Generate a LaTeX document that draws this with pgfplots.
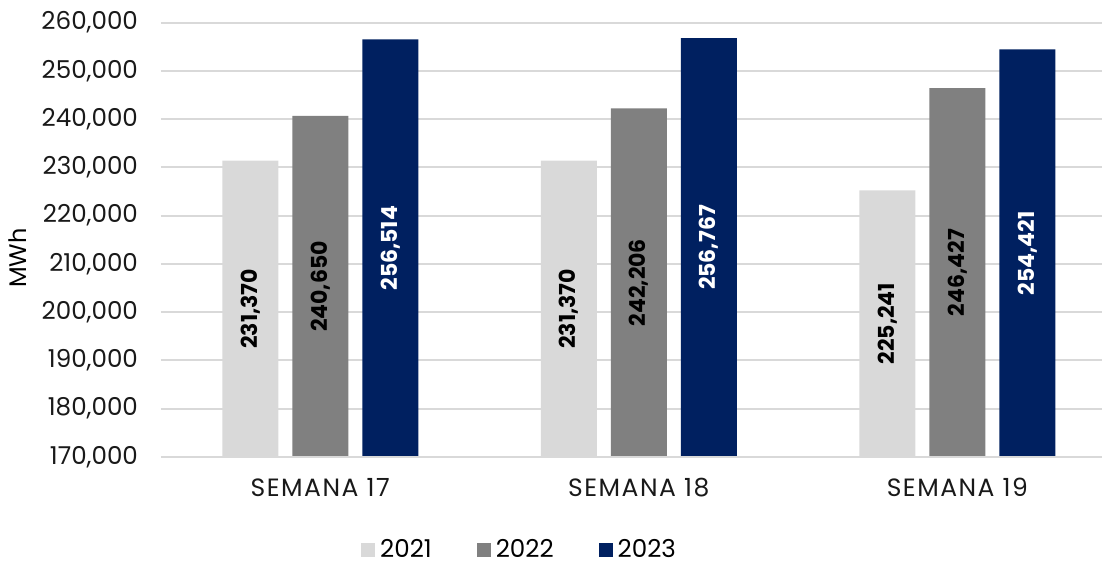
\documentclass[border=0pt]{standalone}
\usepackage{fontspec}
\setmainfont{Poppins}
\usepackage{pgfplots}
\usepackage{pgfplotstable}
\pgfplotsset{compat=1.18}

\definecolor{c2021}{HTML}{D9D9D9}
\definecolor{c2022}{HTML}{808080}
\definecolor{c2023}{HTML}{002060}
\definecolor{gridc}{HTML}{D9D9D9}

% x = week index (0 = SEMANA 17, 1 = SEMANA 18, 2 = SEMANA 19)
\pgfplotstableread{
x y
0 231370
1 231370
2 225241
}\datA
\pgfplotstableread{
x y
0 240650
1 242206
2 246427
}\datB
\pgfplotstableread{
x y
0 256514
1 256767
2 254421
}\datC

% shift a bar label down to the middle of its bar
\newcommand\midshift[1]{%
  \begingroup
  \pgfkeys{/pgf/fpu=true,/pgf/fpu/output format=fixed}%
  \pgfmathparse{(#1-170000)*217.25/180000}%
  \xdef\labshift{\pgfmathresult}%
  \endgroup}

\begin{document}
\begin{tikzpicture}
\path[use as bounding box] (-80.5pt,-54pt) rectangle (470.5pt,228.5pt);
\begin{axis}[
    at={(0,0)}, anchor=south west,
    scale only axis,
    width=470.5pt, height=217.25pt,
    ybar=7pt, bar width=28pt,
    xmin=-0.5, xmax=2.454,
    ymin=170000, ymax=260000,
    ytick distance=10000,
    xtick={0,1,2},
    xticklabels={SEMANA 17, SEMANA 18, SEMANA 19},
    axis line style={draw=none},
    major tick length=0pt,
    ymajorgrids, grid style={gridc, line width=1pt},
    tick label style={font=\fontsize{12.3}{14}\selectfont, text=black!90},
    yticklabel style={xshift=-8pt},
    xticklabel style={yshift=-7pt, font=\addfontfeatures{LetterSpace=6}\fontsize{12.5}{14}\selectfont},
    scaled y ticks=false,
    /pgf/number format/.cd, 1000 sep={,}, assume math mode=true, /pgfplots/.cd,
    yticklabel={\pgfmathprintnumber[fixed,precision=0]{\tick}},
    clip=false,
    visualization depends on={rawy \as \rawy},
    nodes near coords={\pgfmathprintnumber[fixed,precision=0,1000 sep={,},assume math mode=true]{\rawy}},
    every node near coord/.append style={
        font=\fontsize{11}{13}\selectfont\bfseries,
        /utils/exec={\midshift{\rawy}},
        yshift=-\labshift pt,
        rotate=90, anchor=center},
    legend columns=3,
    legend style={at={(rel axis cs:0.3826,-0.214)}, anchor=center, draw=none,
        font=\fontsize{12.3}{14}\selectfont, inner sep=0pt,
        nodes={inner xsep=2.5pt, inner ysep=0.5pt},
        /tikz/every even column/.append style={column sep=20pt}},
    legend image code/.code={\path[#1] (0pt,-3.5pt) rectangle (7pt,3.5pt);},
]
\addplot[fill=c2021, draw=none, nodes near coords style={text=black}] table {\datA};
\addplot[fill=c2022, draw=none, nodes near coords style={text=black}] table {\datB};
\addplot[fill=c2023, draw=none, nodes near coords style={text=white}] table {\datC};
\legend{2021,2022,2023}
\draw[gridc, line width=1pt] (rel axis cs:0,0) -- (rel axis cs:1,0);
\end{axis}
\node[rotate=90, font=\fontsize{12}{14}\selectfont] at (-71.5pt,99.5pt) {MWh};
\end{tikzpicture}
\end{document}
